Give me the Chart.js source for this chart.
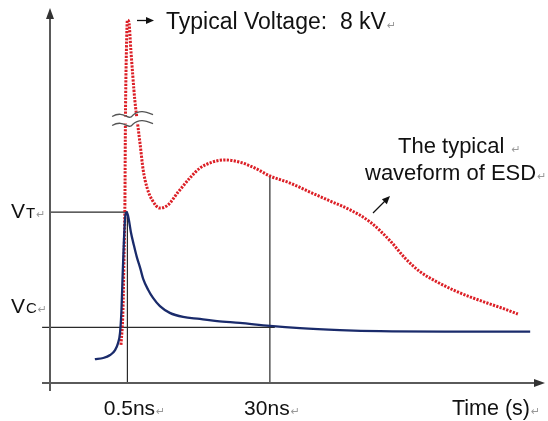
<!DOCTYPE html>
<html>
<head>
<meta charset="utf-8">
<script src="https://cdn.jsdelivr.net/npm/chart.js@4"></script>
<style>
  html, body { margin: 0; padding: 0; background: #fff; }
  #wrap { width: 548px; height: 421px; }
</style>
</head>
<body>
<div id="wrap"><canvas id="esd"></canvas></div>
<script>
// x = time, y = voltage, both in arbitrary units 0..100 (sketch, not to scale)
const esdTime = [14.4, 14.8, 15.0, 15.2, 15.3, 15.5, 15.7, 16.0, 16.4, 17.2, 17.8, 18.3, 18.9, 19.7, 20.7,
  22.3, 23.9, 26.0, 28.4, 30.4, 32.9, 35.5, 38.5, 41.6, 44.6, 48.7, 52.7, 56.8, 60.9, 64.9, 69.0, 72.0,
  75.1, 78.5, 82.2, 85.2, 89.2, 92.3, 94.9];
const esdVolt = [10.2, 19.6, 33.0, 49.1, 70.5, 89.3, 97.3, 96.8, 89.3, 75.9, 69.2, 63.8, 57.1, 52.3, 49.1,
  46.9, 47.7, 51.2, 55.0, 57.6, 59.2, 59.8, 59.2, 57.6, 55.5, 53.6, 51.2, 48.8, 46.4, 43.2, 38.1, 33.5,
  29.8, 27.1, 24.7, 23.1, 21.2, 19.8, 18.5];

const clampTime = [9.1, 10.8, 12.2, 13.2, 13.8, 14.2, 14.5, 14.7, 15.0, 15.3, 15.6, 16.0, 16.4, 17.0, 17.6,
  18.3, 18.9, 19.9, 20.9, 22.3, 24.3, 27.0, 30.4, 33.9, 38.5, 44.6, 50.7, 58.8, 66.9, 80.0, 97.4];
const clampVolt = [6.4, 6.7, 7.5, 8.8, 10.7, 13.4, 19.6, 27.6, 38.3, 45.0, 45.8, 43.7, 40.5, 37.0, 33.8,
  30.8, 27.9, 25.0, 22.8, 20.6, 18.8, 17.7, 17.2, 16.6, 16.1, 15.3, 14.7, 14.2, 13.9, 13.8, 13.8];

const tickTimes = [15.7, 44.6];
const tickLabels = ['0.5ns', '30ns'];
const levelNames = ['T', 'C'];
const levelValues = [45.8, 14.9];
const breakLevel = 70.5;

const RED = '#dc1f26';
const BLUE = '#1a2b6b';
const INK = '#111';
const RET = '\u21b5';

const pts = (xs, ys) => xs.map((x, i) => ({ x, y: ys[i] }));
const volt30 = esdVolt[esdTime.indexOf(tickTimes[1])];

function guide(data) {
  return { data, borderColor: '#2a2a2a', borderWidth: 1.2, pointRadius: 0, showLine: true, clip: false, order: 3 };
}

const overlay = {
  id: 'overlay',
  afterDatasetsDraw(chart) {
    const { ctx, chartArea: a, scales: { x, y } } = chart;
    ctx.save();

    // axes with arrow heads
    ctx.strokeStyle = '#5a5a5a';
    ctx.fillStyle = '#333';
    ctx.lineWidth = 2;
    ctx.beginPath();
    ctx.moveTo(a.left, a.bottom + 8);
    ctx.lineTo(a.left, a.top + 4);
    ctx.moveTo(a.left - 8, a.bottom);
    ctx.lineTo(a.right - 4, a.bottom);
    ctx.stroke();
    ctx.beginPath();
    ctx.moveTo(a.left, a.top - 2);
    ctx.lineTo(a.left - 4, a.top + 9);
    ctx.lineTo(a.left + 4, a.top + 9);
    ctx.fill();
    ctx.beginPath();
    ctx.moveTo(a.right + 2, a.bottom);
    ctx.lineTo(a.right - 9, a.bottom - 4);
    ctx.lineTo(a.right - 9, a.bottom + 4);
    ctx.fill();

    // axis break on the spike
    const by = y.getPixelForValue(breakLevel);
    const bx0 = x.getPixelForValue(12.6), bx1 = x.getPixelForValue(20.9);
    const wave = (off) => {
      ctx.moveTo(bx0, by + off + 1);
      ctx.bezierCurveTo(bx0 + 12, by + off - 6, bx0 + 16, by + off + 6, (bx0 + bx1) / 2, by + off);
      ctx.bezierCurveTo(bx1 - 14, by + off - 6, bx1 - 8, by + off - 4, bx1, by + off - 1);
    };
    ctx.fillStyle = '#fff';
    ctx.beginPath();
    ctx.rect(bx0 + 6, by - 3.5, bx1 - bx0 - 12, 7);
    ctx.fill();
    ctx.strokeStyle = '#555';
    ctx.lineWidth = 1.3;
    ctx.beginPath();
    wave(-4.5);
    wave(4.5);
    ctx.stroke();

    // text helper: main text then the small return mark
    const label = (txt, px, py, size, align) => {
      ctx.font = size + 'px "Liberation Sans", Arial, sans-serif';
      ctx.fillStyle = INK;
      ctx.textBaseline = 'alphabetic';
      const w = ctx.measureText(txt).width;
      const left = align === 'center' ? px - w / 2 : px;
      ctx.textAlign = 'left';
      ctx.fillText(txt, left, py);
      ctx.font = '11px "DejaVu Sans", sans-serif';
      ctx.fillStyle = '#999';
      ctx.fillText(RET, left + w + 1, py);
    };

    // time ticks
    tickTimes.forEach((t, i) => label(tickLabels[i], x.getPixelForValue(t) + (i === 0 ? 2 : -3), a.bottom + 32, 21, 'center'));
    label('Time (s)', 452, a.bottom + 32, 21.5, 'left');

    // voltage levels V_T / V_C
    levelValues.forEach((v, i) => {
      const py = y.getPixelForValue(v) + (i === 0 ? 6 : -14);
      ctx.font = '21px "Liberation Sans", Arial, sans-serif';
      ctx.fillStyle = INK;
      ctx.textAlign = 'left';
      ctx.fillText('V', 11, py);
      ctx.font = '15px "Liberation Sans", Arial, sans-serif';
      ctx.fillText(levelNames[i], 26, py);
      const w = ctx.measureText(levelNames[i]).width;
      ctx.font = '11px "DejaVu Sans", sans-serif';
      ctx.fillStyle = '#999';
      ctx.fillText(RET, 27 + w, py);
    });

    // peak note
    label('Typical Voltage:  8 kV', 166, 29, 23, 'left');
    const arrow = (x0, y0, x1, y1) => {
      const ang = Math.atan2(y1 - y0, x1 - x0);
      ctx.strokeStyle = '#111';
      ctx.fillStyle = '#111';
      ctx.lineWidth = 1.3;
      ctx.beginPath();
      ctx.moveTo(x0, y0);
      ctx.lineTo(x1 - 6 * Math.cos(ang), y1 - 6 * Math.sin(ang));
      ctx.stroke();
      ctx.beginPath();
      ctx.moveTo(x1, y1);
      ctx.lineTo(x1 - 8 * Math.cos(ang) + 3.5 * Math.sin(ang), y1 - 8 * Math.sin(ang) - 3.5 * Math.cos(ang));
      ctx.lineTo(x1 - 8 * Math.cos(ang) - 3.5 * Math.sin(ang), y1 - 8 * Math.sin(ang) + 3.5 * Math.cos(ang));
      ctx.fill();
    };
    arrow(137, 20.5, 154, 20.5);

    // waveform note
    label('The typical ', 398, 153, 22, 'left');
    label('waveform of ESD', 365, 180, 22, 'left');
    arrow(373, 213, 390, 196);

    ctx.restore();
  }
};

new Chart(document.getElementById('esd'), {
  type: 'scatter',
  data: {
    datasets: [
      guide([{ x: 0, y: levelValues[0] }, { x: tickTimes[0], y: levelValues[0] }, { x: tickTimes[0], y: 0 }]),
      guide([{ x: -1.6, y: levelValues[1] }, { x: 45.6, y: levelValues[1] }]),
      guide([{ x: tickTimes[1], y: volt30 }, { x: tickTimes[1], y: 0 }]),
      {
        label: 'ESD waveform',
        data: pts(esdTime, esdVolt),
        showLine: true,
        borderColor: RED,
        borderWidth: 3,
        borderDash: [2.2, 1.3],
        pointRadius: 0,
        cubicInterpolationMode: 'monotone',
        clip: false,
        order: 2
      },
      {
        label: 'Clamped',
        data: pts(clampTime, clampVolt),
        showLine: true,
        borderColor: BLUE,
        borderWidth: 2.3,
        pointRadius: 0,
        cubicInterpolationMode: 'monotone',
        clip: false,
        order: 1
      }
    ]
  },
  options: {
    responsive: true,
    maintainAspectRatio: false,
    animation: false,
    layout: { padding: { left: 50, right: 5, top: 10, bottom: 38 } },
    plugins: { legend: { display: false }, tooltip: { enabled: false } },
    scales: {
      x: { type: 'linear', min: 0, max: 100, display: false },
      y: { type: 'linear', min: 0, max: 100, display: false }
    }
  },
  plugins: [overlay]
});
</script>
</body>
</html>
